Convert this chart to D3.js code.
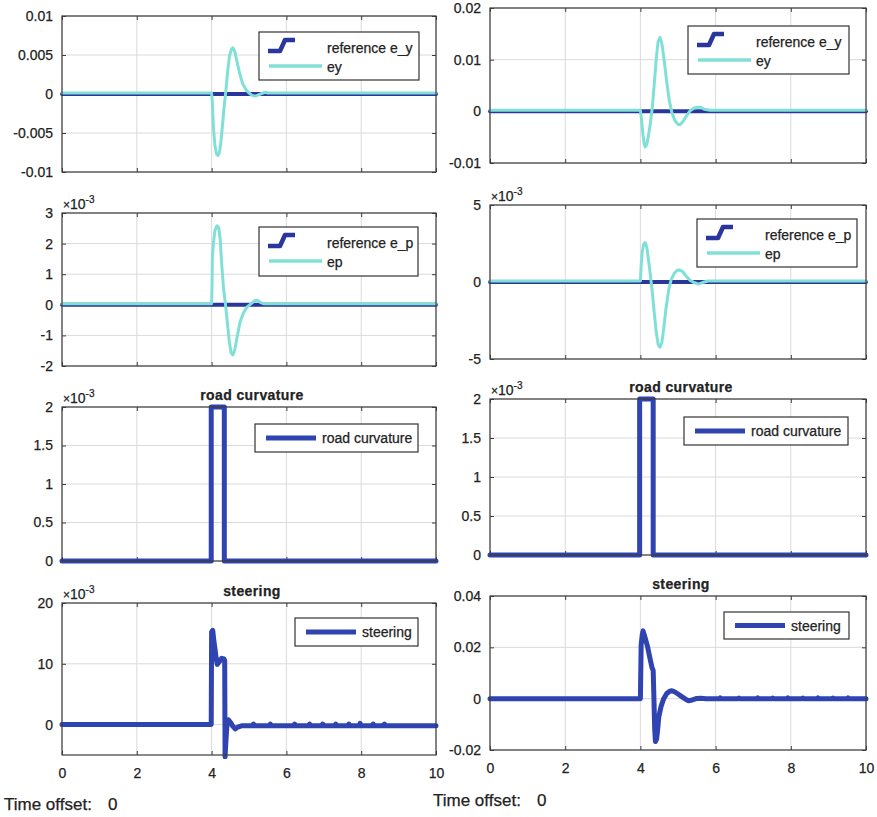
<!DOCTYPE html>
<html><head><meta charset="utf-8">
<script src="https://cdn.jsdelivr.net/npm/d3@7"></script>
<style>
body{margin:0;background:#fff}
svg{display:block}
text{font-family:"Liberation Sans",Arial,Helvetica,sans-serif;fill:#222;stroke:#222;stroke-width:0.25px}
</style>
</head><body>
<svg id="c" width="877" height="817"></svg>
<script>
// ---------------- DATA ----------------
const timeTicks = [0, 2, 4, 6, 8, 10];
const timeTickLabels = ["0", "2", "4", "6", "8", "10"];

// left run (A)
const refEyA = [[0,0],[10,0]];
const eyA = [[0,0],[4.0,0],[4.02,-0.0012],[4.05,-0.0045],[4.09,-0.0068],[4.13,-0.0078],[4.17,-0.0080],[4.21,-0.0076],[4.25,-0.0062],[4.29,-0.0042],[4.33,-0.0020],[4.38,0.0002],[4.43,0.0028],[4.48,0.0048],[4.53,0.0056],[4.57,0.0058],[4.62,0.0053],[4.68,0.0040],[4.75,0.0025],[4.83,0.0012],[4.92,0.0004],[5.0,0.0],[5.08,-0.0003],[5.17,-0.0004],[5.27,-0.0002],[5.37,0.0],[5.45,0.0001],[5.5,0],[10,0]];
const refEpA = [[0,0],[10,0]];
const epA = [[0,0],[4.0,0],[4.01,0.0005],[4.02,0.0015],[4.05,0.0020],[4.09,0.0024],[4.14,0.00255],[4.19,0.0025],[4.23,0.0021],[4.27,0.0013],[4.32,0.0005],[4.37,0.0],[4.42,-0.0006],[4.47,-0.0012],[4.52,-0.0016],[4.57,-0.00167],[4.62,-0.0015],[4.68,-0.0011],[4.76,-0.0006],[4.85,-0.0003],[4.95,-0.0001],[5.05,0],[5.15,0.0001],[5.22,0.00012],[5.3,0.00005],[5.4,0],[10,0]];
const curvA = [[0,0],[3.99,0],[3.99,0.002],[4.34,0.002],[4.34,0],[10,0]];
const steerA = [[0,0],[3.99,0],[4.0,0.0152],[4.03,0.0155],[4.06,0.0138],[4.09,0.0125],[4.12,0.011],[4.15,0.0099],[4.2,0.0103],[4.27,0.0109],[4.33,0.0108],[4.35,0.0105],[4.36,-0.0053],[4.38,-0.003],[4.4,-0.001],[4.42,0.0004],[4.45,0.0008],[4.5,0.0004],[4.57,-0.0003],[4.63,-0.0007],[4.7,-0.0004],[4.8,-0.0002],[5.1,-0.0002],[5.12,0.0001],[5.14,-0.0002],[5.55,-0.0002],[5.57,0.0001],[5.59,-0.0002],[6.2,-0.0002],[6.22,0.0001],[6.24,-0.0002],[6.6,-0.0002],[6.62,0.0001],[6.64,-0.0002],[6.95,-0.0002],[6.97,0.0001],[6.99,-0.0002],[7.3,-0.0002],[7.32,0.0001],[7.34,-0.0002],[7.65,-0.0002],[7.67,0.0001],[7.69,-0.0002],[7.95,-0.0002],[7.97,0.0002],[7.99,-0.0002],[8.3,-0.0002],[8.32,0.0001],[8.34,-0.0002],[8.6,-0.0002],[8.62,0.0001],[8.64,-0.0002],[10,-0.0002]];

// right run (B)
const refEyB = [[0,0],[10,0]];
const eyB = [[0,0],[4.0,0],[4.03,-0.0018],[4.07,-0.0048],[4.1,-0.0065],[4.13,-0.0071],[4.17,-0.0066],[4.22,-0.0047],[4.27,-0.0022],[4.32,0.0008],[4.37,0.0052],[4.42,0.0098],[4.47,0.0133],[4.52,0.0141],[4.57,0.0130],[4.63,0.0098],[4.7,0.0055],[4.77,0.0018],[4.84,-0.0005],[4.92,-0.0020],[5.0,-0.0027],[5.05,-0.0028],[5.13,-0.0022],[5.22,-0.0011],[5.32,-0.0001],[5.42,0.0004],[5.52,0.0006],[5.6,0.0006],[5.7,0.0002],[5.85,0],[10,0]];
const refEpB = [[0,0],[10,0]];
const epB = [[0,0],[4.0,0],[4.02,0.0010],[4.05,0.0019],[4.09,0.0024],[4.13,0.0025],[4.17,0.0022],[4.22,0.0013],[4.27,0.0003],[4.32,-0.0008],[4.37,-0.0021],[4.42,-0.0033],[4.47,-0.0041],[4.52,-0.0043],[4.57,-0.0040],[4.62,-0.0031],[4.68,-0.0018],[4.75,-0.0006],[4.82,0.0001],[4.9,0.0005],[4.98,0.0007],[5.05,0.00072],[5.13,0.0006],[5.22,0.0003],[5.32,0.00005],[5.42,-0.0001],[5.55,-0.0002],[5.65,-0.0001],[5.8,0],[10,0]];
const curvB = [[0,0],[3.98,0],[3.98,0.002],[4.34,0.002],[4.34,0],[10,0]];
const steerB = [[0,0],[4.0,0],[4.02,0.021],[4.05,0.025],[4.07,0.0264],[4.1,0.025],[4.14,0.023],[4.19,0.0203],[4.25,0.016],[4.31,0.012],[4.34,0.011],[4.36,0.0],[4.38,-0.012],[4.4,-0.0167],[4.43,-0.0158],[4.46,-0.012],[4.49,-0.007],[4.55,-0.003],[4.62,0],[4.7,0.002],[4.78,0.0029],[4.84,0.0031],[4.92,0.0026],[5.0,0.0018],[5.1,0.0008],[5.2,-0.0002],[5.28,-0.0008],[5.38,-0.0005],[5.5,0.0001],[5.6,0.0002],[5.75,0],[6.1,0],[6.12,0.0003],[6.14,0],[6.6,0],[6.62,0.0002],[6.64,0],[7.1,0],[7.12,0.0003],[7.14,0],[7.5,0],[7.52,0.0002],[7.54,0],[7.9,0],[7.92,0.0003],[7.94,0],[8.3,0],[8.32,0.0002],[8.34,0],[8.7,0],[8.72,0.0003],[8.74,0],[9.1,0],[9.12,0.0002],[9.14,0],[9.5,0],[9.52,0.0003],[9.54,0],[10,0]];

// y ticks
const yTicksEyA = [-0.01,-0.005,0,0.005,0.01];
const yLabelsEyA = ["-0.01","-0.005","0","0.005","0.01"];
const yTicksEyB = [-0.01,0,0.01,0.02];
const yLabelsEyB = ["-0.01","0","0.01","0.02"];
const yTicksEpA = [-0.002,-0.001,0,0.001,0.002,0.003];
const yLabelsEpA = ["-2","-1","0","1","2","3"];
const yTicksEpB = [-0.005,0,0.005];
const yLabelsEpB = ["-5","0","5"];
const yTicksCurv = [0,0.0005,0.001,0.0015,0.002];
const yLabelsCurv = ["0","0.5","1","1.5","2"];
const yTicksSteerA = [0,0.01,0.02];
const yLabelsSteerA = ["0","10","20"];
const yTicksSteerB = [-0.02,0,0.02,0.04];
const yLabelsSteerB = ["-0.02","0","0.02","0.04"];

// ---------------- STYLE / LAYOUT ----------------
const COL = {cyan:"#80e0d7", navy:"#2a369b", blue:"#2f44b1", frame:"#3d3d3d", grid:"#dadada"};

const panels = [
  {x0:62,x1:436,y0:16,y1:172, yd:[-0.01,0.01], yt:yTicksEyA, yl:yLabelsEyA,
   series:[{d:refEyA,c:COL.navy,w:4},{d:eyA,c:COL.cyan,w:3,dy:-1}],
   legend:{type:"two",x:259,y:32,w:160,h:48,t1:"reference e_y",t2:"ey"}},
  {x0:490,x1:866,y0:8,y1:163, yd:[-0.01,0.02], yt:yTicksEyB, yl:yLabelsEyB,
   series:[{d:refEyB,c:COL.navy,w:4},{d:eyB,c:COL.cyan,w:3,dy:-1}],
   legend:{type:"two",x:688,y:26,w:161,h:48,t1:"reference e_y",t2:"ey"}},
  {x0:62,x1:436,y0:213,y1:366, yd:[-0.002,0.003], yt:yTicksEpA, yl:yLabelsEpA, exp:true,
   series:[{d:refEpA,c:COL.navy,w:4},{d:epA,c:COL.cyan,w:3,dy:-1}],
   legend:{type:"two",x:259,y:227,w:159,h:49,t1:"reference e_p",t2:"ep"}},
  {x0:490,x1:866,y0:205,y1:359, yd:[-0.005,0.005], yt:yTicksEpB, yl:yLabelsEpB, exp:true,
   series:[{d:refEpB,c:COL.navy,w:4},{d:epB,c:COL.cyan,w:3,dy:-1}],
   legend:{type:"two",x:697,y:219,w:160,h:48,t1:"reference e_p",t2:"ep"}},
  {x0:62,x1:436,y0:407,y1:561, yd:[0,0.002], yt:yTicksCurv, yl:yLabelsCurv, exp:true, title:"road curvature",
   series:[{d:curvA,c:COL.blue,w:5}],
   legend:{type:"one",x:255,y:424,w:163,h:28,t1:"road curvature"}},
  {x0:490,x1:866,y0:399,y1:555, yd:[0,0.002], yt:yTicksCurv, yl:yLabelsCurv, exp:true, title:"road curvature",
   series:[{d:curvB,c:COL.blue,w:5}],
   legend:{type:"one",x:684,y:417,w:164,h:28,t1:"road curvature"}},
  {x0:62,x1:436,y0:603,y1:755, yd:[-0.005,0.02], yt:yTicksSteerA, yl:yLabelsSteerA, exp:true, title:"steering", xlab:true,
   series:[{d:steerA,c:COL.blue,w:5}],
   legend:{type:"one",x:295,y:618,w:123,h:28,t1:"steering"}},
  {x0:490,x1:866,y0:596,y1:750, yd:[-0.02,0.04], yt:yTicksSteerB, yl:yLabelsSteerB, title:"steering", xlab:true,
   series:[{d:steerB,c:COL.blue,w:5}],
   legend:{type:"one",x:724,y:612,w:125,h:27,t1:"steering"}}
];

const svg = d3.select("#c");
svg.append("rect").attr("width",877).attr("height",817).attr("fill","#fff");

panels.forEach((p,i)=>{
  const g = svg.append("g");
  const x = d3.scaleLinear().domain([0,10]).range([p.x0,p.x1]);
  const y = d3.scaleLinear().domain(p.yd).range([p.y1,p.y0]);

  // grid
  g.append("g").selectAll("line").data(timeTicks).join("line")
    .attr("x1",d=>x(d)).attr("x2",d=>x(d)).attr("y1",p.y0).attr("y2",p.y1)
    .attr("stroke",COL.grid).attr("stroke-width",1);
  g.append("g").selectAll("line").data(p.yt).join("line")
    .attr("x1",p.x0).attr("x2",p.x1).attr("y1",d=>y(d)).attr("y2",d=>y(d))
    .attr("stroke",COL.grid).attr("stroke-width",1);

  // axes with inward ticks
  const yl = p.yl;
  const ax = g.append("g").attr("transform",`translate(${p.x0},0)`)
    .call(d3.axisLeft(y).tickValues(p.yt).tickFormat((d,k)=>yl[k]).tickSize(-4).tickPadding(9));
  ax.selectAll("text").style("font-size","14px").attr("fill","#222");
  g.append("g").attr("transform",`translate(${p.x1},0)`)
    .call(d3.axisRight(y).tickValues(p.yt).tickFormat("").tickSize(-4));
  const bx = g.append("g").attr("transform",`translate(0,${p.y1})`)
    .call(d3.axisBottom(x).tickValues(timeTicks).tickFormat((d,k)=>p.xlab?timeTickLabels[k]:"").tickSize(-4).tickPadding(13));
  bx.selectAll("text").style("font-size","14px").attr("fill","#222");
  g.append("g").attr("transform",`translate(0,${p.y0})`)
    .call(d3.axisTop(x).tickValues(timeTicks).tickFormat("").tickSize(-4));
  g.selectAll(".domain").remove();
  g.selectAll(".tick line").attr("stroke",COL.frame);

  // clip
  const cid = "clip"+i;
  svg.append("clipPath").attr("id",cid).append("rect")
    .attr("x",p.x0-3).attr("y",p.y0-4).attr("width",p.x1-p.x0+6).attr("height",p.y1-p.y0+8);
  const sg = g.append("g").attr("clip-path",`url(#${cid})`);
  const line = d3.line().x(d=>x(d[0])).y(d=>y(d[1]));
  p.series.forEach(s=>{
    sg.append("path").datum(s.d).attr("d",line)
      .attr("fill","none").attr("stroke",s.c).attr("stroke-width",s.w)
      .attr("stroke-linejoin","round").attr("stroke-linecap","round")
      .attr("transform",s.dy?`translate(0,${s.dy})`:null);
  });

  // frame
  g.append("rect").attr("x",p.x0).attr("y",p.y0).attr("width",p.x1-p.x0).attr("height",p.y1-p.y0)
    .attr("fill","none").attr("stroke",COL.frame).attr("stroke-width",1.2);

  // exponent
  if(p.exp){
    const t = g.append("text").attr("x",p.x0+1).attr("y",p.y0-4).style("font-size","14px");
    t.append("tspan").text("×").style("font-size","12px");
    t.append("tspan").text("10");
    t.append("tspan").text("-3").attr("dy",-6).style("font-size","10px");
  }
  // title
  if(p.title){
    g.append("text").attr("x",(p.x0+p.x1)/2+3).attr("y",p.y0-7).attr("text-anchor","middle")
      .style("font-size","14px").style("font-weight","bold").style("letter-spacing","0.4px").text(p.title);
  }

  // legend
  const L = p.legend;
  const lg = g.append("g").attr("transform",`translate(${L.x},${L.y})`);
  lg.append("rect").attr("width",L.w).attr("height",L.h).attr("fill","#fff")
    .attr("stroke","#333").attr("stroke-width",1.2);
  if(L.type==="two"){
    lg.append("path").attr("d","M9,19H21L26,8H36").attr("fill","none")
      .attr("stroke",COL.navy).attr("stroke-width",4.5).attr("stroke-linejoin","round");
    lg.append("line").attr("x1",10).attr("x2",63).attr("y1",34).attr("y2",34)
      .attr("stroke",COL.cyan).attr("stroke-width",3.5);
    lg.append("text").attr("x",68).attr("y",21).style("font-size","14px").text(L.t1);
    lg.append("text").attr("x",68).attr("y",40).style("font-size","14px").text(L.t2);
  } else {
    lg.append("line").attr("x1",11).attr("x2",61).attr("y1",L.h/2).attr("y2",L.h/2)
      .attr("stroke",COL.blue).attr("stroke-width",5);
    lg.append("text").attr("x",67).attr("y",L.h/2+5).style("font-size","14px").text(L.t1);
  }
});

// time offset labels
[[4,810,108],[433,806,537]].forEach(([tx,ty,vx])=>{
  svg.append("text").attr("x",tx).attr("y",ty).style("font-size","17px").text("Time offset:");
  svg.append("text").attr("x",vx).attr("y",ty).style("font-size","17px").text("0");
});
</script>
</body></html>
